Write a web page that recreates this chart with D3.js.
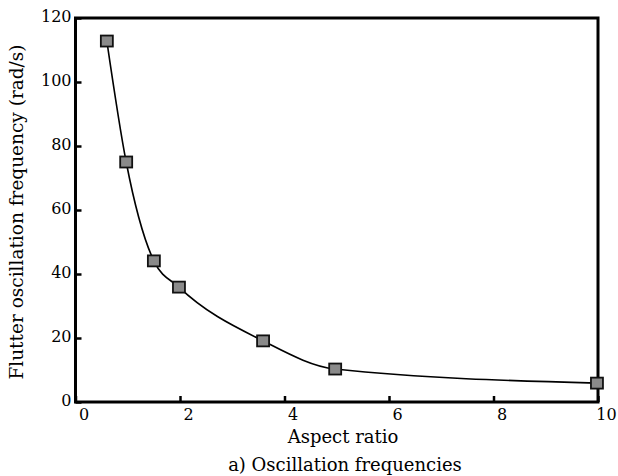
<!DOCTYPE html>
<html>
<head>
<meta charset="utf-8">
<script src="https://cdn.jsdelivr.net/npm/d3@7"></script>
<style>
  body { margin: 0; background: #fff; }
  text { font-family: "DejaVu Serif", serif; font-size: 18px; fill: #000; }
</style>
</head>
<body>
<div id="chart"></div>
<script>
// Data
const aspectRatio = [0.6, 0.97, 1.5, 1.98, 3.59, 4.97, 9.98];
const frequency = [112.8, 75.0, 44.1, 35.9, 19.1, 10.3, 5.9];
const xTicks = [0, 2, 4, 6, 8, 10];
const yTicks = [0, 20, 40, 60, 80, 100, 120];

const width = 618;
const height = 476;
const margin = { top: 18, right: 20, bottom: 74, left: 75.5 };

const svg = d3.select("#chart").append("svg")
    .attr("width", width)
    .attr("height", height);

const x = d3.scaleLinear().domain([0, 10]).range([margin.left, width - margin.right]);
const y = d3.scaleLinear().domain([0, 120]).range([height - margin.bottom, margin.top]);

// x axis (ticks pointing inward, labels offset to the right as in the original)
const xAxis = svg.append("g")
    .attr("transform", `translate(0,${y(0)})`)
    .call(d3.axisBottom(x).tickValues(xTicks).tickSize(-6).tickPadding(7).tickFormat(d3.format("d")));
xAxis.select(".domain").remove();
xAxis.selectAll(".tick line").attr("stroke", "#000").attr("stroke-width", 2.5);
xAxis.selectAll(".tick text").attr("dx", 8).style("font-size", "16px");

// y axis
const yAxis = svg.append("g")
    .attr("transform", `translate(${x(0)},0)`)
    .call(d3.axisLeft(y).tickValues(yTicks).tickSize(-6).tickPadding(4).tickFormat(d3.format("d")));
yAxis.select(".domain").remove();
yAxis.selectAll(".tick line").attr("stroke", "#000").attr("stroke-width", 2.5);
yAxis.selectAll(".tick text").attr("dy", "0.2em").style("font-size", "16px");

// frame
svg.append("rect")
    .attr("x", x(0))
    .attr("y", y(120))
    .attr("width", x(10) - x(0))
    .attr("height", y(0) - y(120))
    .attr("fill", "none")
    .attr("stroke", "#000")
    .attr("stroke-width", 3);

const points = aspectRatio.map((d, i) => [d, frequency[i]]);

// fitted curve
const line = d3.line()
    .x(d => x(d[0]))
    .y(d => y(d[1]))
    .curve(d3.curveMonotoneX);

svg.append("path")
    .datum(points)
    .attr("d", line)
    .attr("fill", "none")
    .attr("stroke", "#000")
    .attr("stroke-width", 1.6);

// square markers
svg.append("g")
    .selectAll("rect")
    .data(points)
    .enter().append("rect")
    .attr("x", d => x(d[0]) - 6)
    .attr("y", d => y(d[1]) - 5.5)
    .attr("width", 12)
    .attr("height", 11)
    .attr("fill", "#8a8a8a")
    .attr("stroke", "#111")
    .attr("stroke-width", 1.8);

// axis titles
svg.append("text")
    .attr("x", 343)
    .attr("y", 443)
    .attr("text-anchor", "middle")
    .text("Aspect ratio");

svg.append("text")
    .attr("transform", "translate(23,212) rotate(-90)")
    .attr("text-anchor", "middle")
    .style("font-size", "18.5px")
    .text("Flutter oscillation frequency (rad/s)");

svg.append("text")
    .attr("x", 345)
    .attr("y", 471)
    .attr("text-anchor", "middle")
    .text("a) Oscillation frequencies");
</script>
</body>
</html>
